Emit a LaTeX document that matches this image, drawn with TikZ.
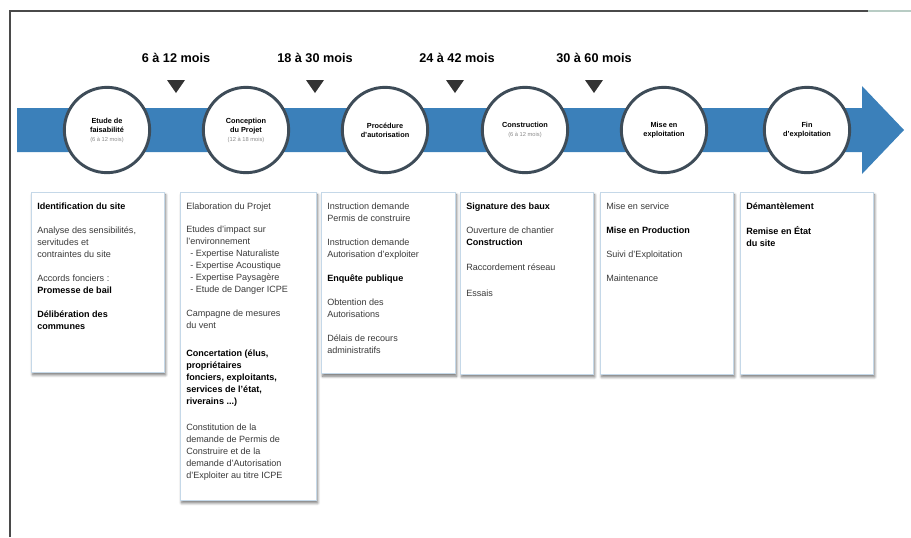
\documentclass[tikz,border=0pt]{standalone}
\usepackage{fontspec}
\setmainfont{Liberation Sans}
\usetikzlibrary{shadows.blur}
\definecolor{bandblue}{HTML}{3B80BA}
\definecolor{ringgray}{HTML}{3E4C58}
\definecolor{cardline}{HTML}{C5D8E8}
\definecolor{shadowblue}{HTML}{5F8DB5}
\definecolor{txt}{HTML}{3A3A3A}
\definecolor{subtxt}{HTML}{8A8A8A}
\definecolor{framecol}{HTML}{4A4A4A}
\definecolor{framelight}{HTML}{B8CCC4}
\begin{document}
\begin{tikzpicture}[x=0.75pt,y=-0.75pt,
  phase/.style={circle, draw=ringgray, line width=2.2pt, fill=white, minimum size=64pt, inner sep=0pt, align=center, font=\fontsize{5.5}{6.8}\selectfont\bfseries},
  mois/.style={font=\fontsize{9.5}{11}\selectfont\bfseries, inner sep=1pt},
  card/.style={draw=cardline, line width=0.4pt, fill=white, blur shadow={shadow xshift=1pt, shadow yshift=-2pt, shadow blur radius=2pt, shadow opacity=55, shadow blur steps=8}, anchor=north west, inner sep=0pt},
  cardtext/.style={anchor=north west, align=left, inner sep=0pt, text=txt, font=\fontsize{6.8}{9}\selectfont},
  marker/.style={fill=black!80}
]
\useasboundingbox (0,0) rectangle (911,537);
% frame
\draw[framecol, line width=1.6pt] (10,537) -- (10,11) -- (868,11);
\draw[framelight, line width=1.6pt] (868,11) -- (911,11);

% band arrow
\fill[bandblue] (17,108) -- (862,108) -- (862,86) -- (904,130) -- (862,174) -- (862,152) -- (17,152) -- cycle;

% phases
\newcommand{\subl}[1]{{\fontsize{4.3}{5}\selectfont\mdseries\color{subtxt}#1}}
\node[phase] (c1) at (107,130) {Etude de\\faisabilité\\\subl{(6 à 12 mois)}};
\node[phase] (c2) at (246,130) {Conception\\du Projet\\\subl{(12 à 18 mois)}};
\node[phase] (c3) at (385,130) {Procédure\\d'autorisation};
\node[phase] (c4) at (525,130) {Construction\\\subl{(6 à 12 mois)}};
\node[phase] (c5) at (664,130) {Mise en\\exploitation};
\node[phase] (c6) at (807,130) {Fin\\d'exploitation};

% milestones
\node[mois] (m1) at (176,58) {6 à 12 mois};
\node[mois] (m2) at (315,58) {18 à 30 mois};
\node[mois] (m3) at (457,58) {24 à 42 mois};
\node[mois] (m4) at (594,58) {30 à 60 mois};
\foreach \x in {176,315,455,594}{
  \fill[marker] (\x-9,80) -- (\x+9,80) -- (\x,93) -- cycle;
}

% cards
\node[card, minimum width=99.75pt, minimum height=135pt] (b1) at (31,192) {};
\node[card, minimum width=102pt, minimum height=231pt] (b2) at (180,192) {};
\node[card, minimum width=100.5pt, minimum height=136pt] (b3) at (321,192) {};
\node[card, minimum width=99.75pt, minimum height=136.5pt] (b4) at (460,192) {};
\node[card, minimum width=99.75pt, minimum height=136.5pt] (b5) at (600,192) {};
\node[card, minimum width=99.75pt, minimum height=136.5pt] (b6) at (740,192) {};

\node[cardtext] (t1) at ([xshift=4.5pt,yshift=-8pt]b1.north west) {%
\textbf{\color{black}Identification du site}\\[9pt]
Analyse des sensibilités,\\servitudes et\\contraintes du site\\[9pt]
Accords fonciers :\\\textbf{\color{black}Promesse de bail}\\[9pt]
\textbf{\color{black}Délibération des}\\\textbf{\color{black}communes}};

\node[cardtext] (t2) at ([xshift=4.5pt,yshift=-8pt]b2.north west) {%
Elaboration du Projet\\[8pt]
Etudes d'impact sur\\l'environnement\\
\hspace*{3pt}- Expertise Naturaliste\\
\hspace*{3pt}- Expertise Acoustique\\
\hspace*{3pt}- Expertise Paysagère\\
\hspace*{3pt}- Etude de Danger ICPE\\[9pt]
Campagne de mesures\\du vent\\[12pt]
\textbf{\color{black}Concertation (élus,}\\\textbf{\color{black}propriétaires}\\\textbf{\color{black}fonciers, exploitants,}\\\textbf{\color{black}services de l'état,}\\\textbf{\color{black}riverains ...)}\\[11pt]
Constitution de la\\demande de Permis de\\Construire et de la\\demande d'Autorisation\\d'Exploiter au titre ICPE};

\node[cardtext] (t3) at ([xshift=4.5pt,yshift=-8pt]b3.north west) {%
Instruction demande\\Permis de construire\\[9pt]
Instruction demande\\Autorisation d'exploiter\\[9pt]
\textbf{\color{black}Enquête publique}\\[9pt]
Obtention des\\Autorisations\\[9pt]
Délais de recours\\administratifs};

\node[cardtext] (t4) at ([xshift=4.5pt,yshift=-8pt]b4.north west) {%
\textbf{\color{black}Signature des baux}\\[9pt]
Ouverture de chantier\\\textbf{\color{black}Construction}\\[10pt]
Raccordement réseau\\[10pt]
Essais};

\node[cardtext] (t5) at ([xshift=4.5pt,yshift=-8pt]b5.north west) {%
Mise en service\\[9pt]
\textbf{\color{black}Mise en Production}\\[9pt]
Suivi d'Exploitation\\[9pt]
Maintenance};

\node[cardtext] (t6) at ([xshift=4.5pt,yshift=-8pt]b6.north west) {%
\textbf{\color{black}Démantèlement}\\[10pt]
\textbf{\color{black}Remise en État}\\\textbf{\color{black}du site}};
\end{tikzpicture}
\end{document}
